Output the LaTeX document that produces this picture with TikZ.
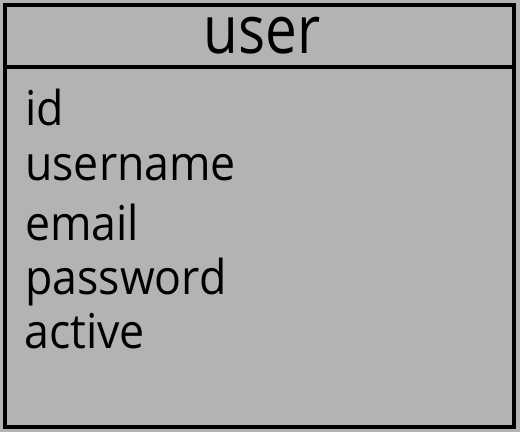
\documentclass[tikz,border=0pt]{standalone}
\usepackage{fontspec}
\setmainfont{Open Sans}
\newfontfamily\fieldfont[FakeStretch=0.93]{Open Sans}
\newfontfamily\titlefont[FakeStretch=0.85]{Open Sans}
\definecolor{boxgray}{HTML}{B3B3B3}
\begin{document}
\begin{tikzpicture}[x=0.75pt,y=-0.75pt,
  field/.style={anchor=base west,inner sep=0pt,font=\fieldfont\fontsize{36}{40}\selectfont},
  ttl/.style={anchor=base,inner sep=0pt,font=\titlefont\fontsize{50}{54}\selectfont},
  frame/.style={draw=black,line width=3pt}]
\fill[boxgray] (0,0) rectangle (520,432);
\useasboundingbox (0,0) rectangle (520,432);
\draw[frame] (5,5) rectangle (514,427);
\draw[frame] (5,67) -- (514,67);
\node[ttl] (title) at (262,53) {user};
\node[field] (f1) at (25,125) {id};
\node[field] (f2) at (25,180) {username};
\node[field] (f3) at (25,240) {email};
\node[field] (f4) at (25,294) {password};
\node[field] (f5) at (24,348) {active};
\end{tikzpicture}
\end{document}
